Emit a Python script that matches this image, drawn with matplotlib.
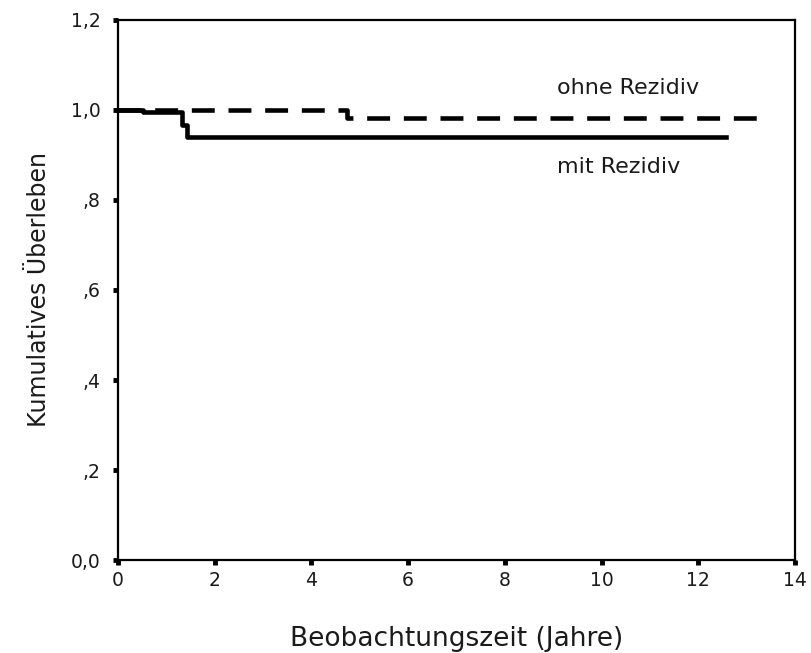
import matplotlib
matplotlib.use("Agg")
import matplotlib.pyplot as plt

# Kaplan-Meier step data (years, cumulative survival)
mit_t = [0.0, 0.52, 1.32, 1.42, 12.58]
mit_s = [1.0, 0.996, 0.967, 0.94, 0.94]

ohne_t = [0.0, 4.73, 13.28]
ohne_s = [1.0, 0.982, 0.982]

xticks = [0, 2, 4, 6, 8, 10, 12, 14]
yticks = [0.0, 0.2, 0.4, 0.6, 0.8, 1.0, 1.2]
ytick_labels = ["0,0", ",2", ",4", ",6", ",8", "1,0", "1,2"]

plt.rcParams["font.family"] = ["DejaVu Sans"]

fig = plt.figure(figsize=(8.12, 6.53), dpi=100)
ax = fig.add_axes([0.1453, 0.1424, 0.8337, 0.827])

lw = 3.3
ax.step(ohne_t, ohne_s, where="post", color="black", lw=lw,
        linestyle=(0, (5, 3)), dash_capstyle="butt")
ax.step(mit_t, mit_s, where="post", color="black", lw=lw)

txt = "#1a1a1a"
ax.text(9.07, 1.049, "ohne Rezidiv", fontsize=16, va="center", ha="left",
        color=txt)
ax.text(9.07, 0.873, "mit Rezidiv", fontsize=16, va="center", ha="left",
        color=txt)

ax.set_xlim(0, 14)
ax.set_ylim(0, 1.2)
ax.set_xticks(xticks)
ax.set_xticklabels([str(v) for v in xticks], fontsize=13.5, color=txt)
ax.set_yticks(yticks)
ax.set_yticklabels(ytick_labels, fontsize=13.5, color=txt)
ax.tick_params(direction="out", length=3.6, width=3.5)
ax.tick_params(axis="x", pad=4)
ax.tick_params(axis="y", pad=9)

for sp in ax.spines.values():
    sp.set_linewidth(1.6)

ax.set_xlabel("Beobachtungszeit (Jahre)", fontsize=19, labelpad=26,
              color=txt)
ax.set_ylabel("Kumulatives Überleben", fontsize=17, labelpad=14,
              color=txt)

fig.savefig("out.png", dpi=100, facecolor="white")
